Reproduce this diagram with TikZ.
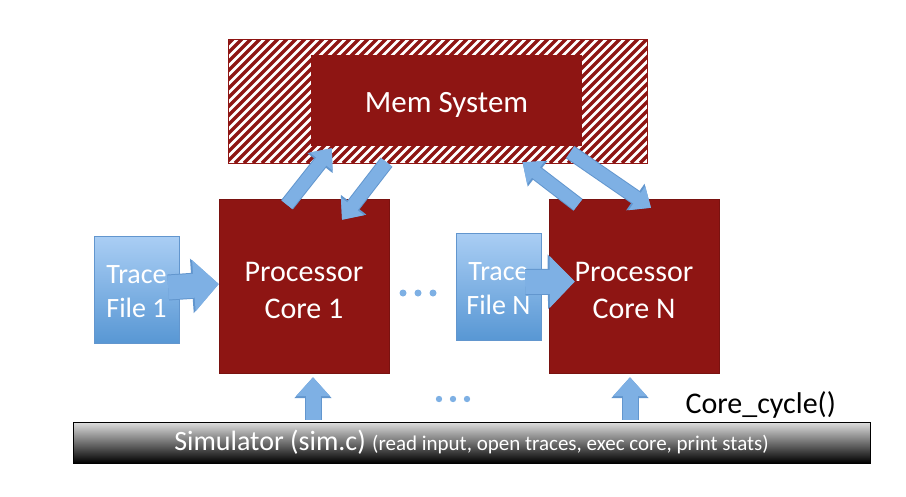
\documentclass[tikz,border=0pt]{standalone}
\usepackage{fontspec}
\setmainfont{Carlito}
\usetikzlibrary{arrows.meta}
\definecolor{memred}{RGB}{142,21,19}
\definecolor{tracetop}{RGB}{170,206,244}
\definecolor{tracebot}{RGB}{88,151,212}
\definecolor{arrowblue}{RGB}{126,176,228}
\definecolor{arrowedge}{RGB}{98,150,206}
\tikzset{
    core/.style={draw=memred!85!black, fill=memred, minimum width=170pt, minimum height=174pt},
    coretext/.style={text=white, align=center, font=\fontsize{30}{37}\selectfont, yshift=-4pt},
    tracefile/.style={draw=arrowedge, top color=tracetop, bottom color=tracebot, minimum width=85pt,
        minimum height=107pt},
    tracetext/.style={text=white, align=center, font=\fontsize{28}{34}\selectfont, yshift=-2.5pt},
    memarr/.style={arrowblue, line width=13pt, -{Triangle[length=17pt, width=28pt]},
        preaction={draw=arrowedge, line width=15pt, -{Triangle[length=19pt, width=31pt]}}},
    tracearr/.style={arrowblue, line width=24pt, -{Triangle[length=25pt, width=50pt]},
        preaction={draw=arrowedge, line width=26pt, -{Triangle[length=27pt, width=53pt]}}},
    simarr/.style={arrowblue, line width=15pt, -{Triangle[length=19pt, width=33pt]},
        preaction={draw=arrowedge, line width=17pt, -{Triangle[length=21pt, width=36pt]}}}
}
\begin{document}
\begin{tikzpicture}[x=1pt, y=-1pt]
    \useasboundingbox (0, 0) rectangle (906, 496);
    % hatched memory area
    \begin{scope}
        \clip (228, 39) rectangle (647, 163);
        \fill[white] (228, 39) rectangle (647, 163);
        \foreach \i in {100, 109, ..., 660}
            \draw[memred, line width=3.2pt] (\i, 163)--++(124, -124);
    \end{scope}
    \node[draw=memred, line width=.8pt, minimum width=419pt, minimum height=124pt] (memarea) at (437.5, 101){};
    \node[fill=memred, minimum width=271pt, minimum height=91pt,
        label={[text=white, font=\fontsize{31}{36}\selectfont, yshift=-4pt]center:Mem System}] (mem) at (446.5, 100.5){};

    \node[core, label={[coretext]center:Processor\\Core 1}] (core1) at (304, 286){};
    \node[core, label={[coretext]center:Processor\\Core N}] (coreN) at (634, 286){};
    \node[tracefile, label={[tracetext]center:Trace\\File 1}] (trace1) at (136.5, 289.5){};
    \node[tracefile, label={[tracetext]center:Trace\\File N}] (traceN) at (498.5, 286.5){};

    \node[draw=black, top color=gray!25, bottom color=black, minimum width=797pt, minimum height=41pt,
        text=white] (sim) at (471.5, 442.5){\fontsize{28}{30}\selectfont Simulator (sim.c) \fontsize{21}{30}\selectfont(read input, open traces, exec core, print stats)};
    \node[anchor=west, font=\fontsize{30}{32}\selectfont] (cyc) at (682, 405){Core\_cycle()};

    \foreach \x in {403, 418, 433}\fill[arrowblue](\x, 293)circle(3.5);
    \foreach \x in {439, 453, 467}\fill[arrowblue](\x, 399)circle(3.2);

    \draw[tracearr]([xshift=-11pt, yshift=2pt]trace1.east)--([yshift=2pt]core1.west);
    \draw[tracearr]([xshift=-16pt, yshift=4.5pt]traceN.east)--([xshift=26pt, yshift=4.5pt]coreN.west);
    \draw[simarr, shorten <=2pt, shorten >=4pt]([xshift=9pt]core1.south |- sim.north)--([xshift=9pt]core1.south);
    \draw[simarr, shorten <=2pt, shorten >=4pt]([xshift=-4pt]coreN.south |- sim.north)--([xshift=-4pt]coreN.south);

    \draw[memarr]([xshift=-17pt, yshift=-6pt]core1.north)--([xshift=21pt, yshift=-2pt]mem.south west);
    \draw[memarr]([xshift=-60pt, yshift=-16pt]mem.south)--([xshift=38pt, yshift=-21pt]core1.north);
    \draw[memarr]([xshift=-56pt, yshift=-6pt]coreN.north)--([xshift=76pt, yshift=-16pt]mem.south);
    \draw[memarr]([xshift=-12pt, yshift=-6pt]mem.south east)--([xshift=17pt, yshift=-9pt]coreN.north);
\end{tikzpicture}
\end{document}
